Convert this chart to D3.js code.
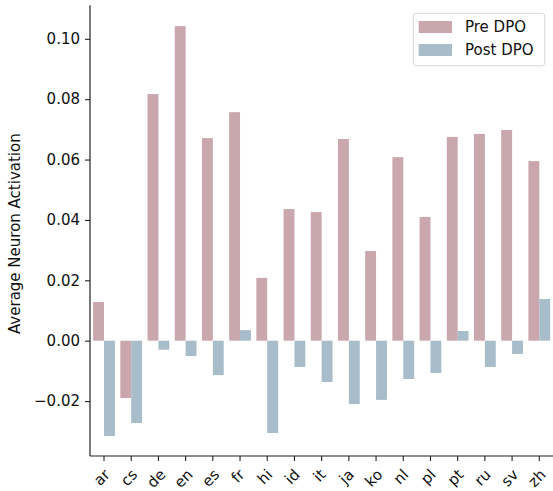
<!DOCTYPE html>
<html><head><meta charset="utf-8">
<script src="https://cdn.jsdelivr.net/npm/d3@7"></script>
<style>body{margin:0;background:#fff}svg{display:block}</style>
</head><body><svg id="c" width="553" height="491"></svg>
<script>
const categories = ["ar","cs","de","en","es","fr","hi","id","it","ja","ko","nl","pl","pt","ru","sv","zh"];
const preDPO  = [0.0128,-0.0190,0.0817,0.1042,0.0671,0.0757,0.0208,0.0436,0.0426,0.0668,0.0297,0.0608,0.0410,0.0675,0.0685,0.0698,0.0595];
const postDPO = [-0.0316,-0.0273,-0.0030,-0.0051,-0.0114,0.0035,-0.0306,-0.0087,-0.0137,-0.0210,-0.0196,-0.0127,-0.0107,0.0032,-0.0087,-0.0044,0.0138];
const seriesNames = ["Pre DPO","Post DPO"];
const yTicks = [-0.02,0.00,0.02,0.04,0.06,0.08,0.10];
const colors = ["#caa6ad","#a7bdc9"];

const svg = d3.select("#c");
const font = "DejaVu Sans, sans-serif";
const L = 90.4, R = 552.9, T = 5.3, B = 456;
const x = d3.scaleBand().domain(categories).range([L, R]).paddingInner(0).paddingOuter(0);
const y = d3.scaleLinear().domain([-0.0382, 0.1111]).range([B, T]);
const bw = x.bandwidth() * 0.4;

const series = [preDPO, postDPO];
series.forEach((vals, si) => {
  svg.append("g").selectAll("rect").data(vals).join("rect")
    .attr("x", (d, i) => x(categories[i]) + x.bandwidth()/2 - bw + si*bw)
    .attr("width", bw)
    .attr("y", d => y(Math.max(0, d)))
    .attr("height", d => Math.abs(y(d) - y(0)))
    .attr("fill", colors[si]);
});

// y axis
const yAxis = d3.axisLeft(y).tickValues(yTicks).tickFormat(d3.format(".2f")).tickSize(5).tickPadding(5);
const gy = svg.append("g").attr("transform", `translate(${L-0.4},0)`).call(yAxis);
gy.select(".domain").attr("d", `M0,${T}V${B}`).attr("stroke", "#222").attr("stroke-width", 1.2);
gy.selectAll(".tick line").attr("stroke", "#222").attr("stroke-width", 1.1);
gy.selectAll(".tick text").attr("font-family", font).attr("font-size", 15).attr("fill", "#111");

// x axis
const xAxis = d3.axisBottom(x).tickSize(5).tickPadding(4);
const gx = svg.append("g").attr("transform", `translate(0,${B})`).call(xAxis);
gx.select(".domain").attr("d", `M${L-0.4},0H${R+1}`).attr("stroke", "#222").attr("stroke-width", 1.2);
gx.selectAll(".tick line").attr("stroke", "#222").attr("stroke-width", 1.1);
gx.selectAll(".tick text").attr("font-family", font).attr("font-size", 15).attr("fill", "#111")
  .attr("text-anchor", "middle").attr("y", 0).attr("dy", "0.32em")
  .each(function() {
    const len = this.getComputedTextLength();
    const h = 17.5;
    const cy = 10 + (len + h) * 0.7071 / 2;
    d3.select(this).attr("transform", `translate(-2,${cy}) rotate(-45)`);
  });

// y label
svg.append("text").attr("transform", `translate(20,${(T+B)/2 + 3}) rotate(-90)`)
  .attr("text-anchor", "middle").attr("font-family", font).attr("font-size", 15).attr("fill", "#111")
  .text("Average Neuron Activation");

// legend
const lg = svg.append("g");
lg.append("rect").attr("x", 413.3).attr("y", 13.3).attr("width", 131.5).attr("height", 52.5)
  .attr("rx", 3).attr("fill", "#fff").attr("fill-opacity", 0.8).attr("stroke", "#d6d6d6");
seriesNames.forEach((n, i) => {
  lg.append("rect").attr("x", 418.7).attr("y", 21 + i*23).attr("width", 33.3).attr("height", 12).attr("fill", colors[i]);
  lg.append("text").attr("x", 465).attr("y", 27 + i*23).attr("dy", "0.35em")
    .attr("font-family", font).attr("font-size", 15).attr("fill", "#111").text(n);
});
</script></body></html>
